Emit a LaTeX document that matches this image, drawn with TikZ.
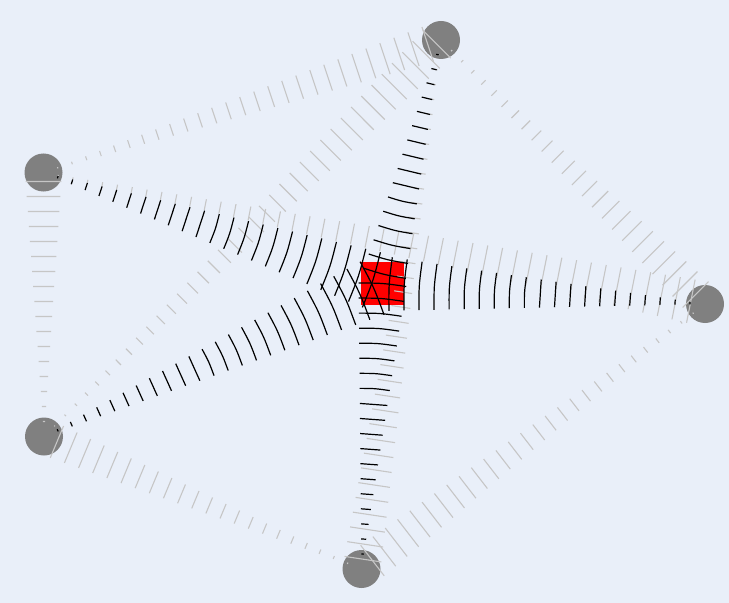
\documentclass[tikz,border=0pt]{standalone}
\usetikzlibrary{calc}
\definecolor{bgblue}{RGB}{233,239,249}
\definecolor{nodegray}{RGB}{128,128,128}
\definecolor{tickgray}{RGB}{198,198,198}
\tikzset{
  outer/.style={circle, fill=nodegray, minimum size=38bp, inner sep=0pt},
  hub/.style={rectangle, fill=red, minimum size=43bp, inner sep=0pt},
  ringtick/.style={draw=tickgray, line width=1.1bp},
  hubtick/.style={draw=black, line width=1.2bp},
}
% #1 source, #2 target, #3 width at target, #4 style, #5 bend factor
\newcommand\taperedge[5]{%
  \path let \p1=($(#2.center)-(#1.center)$) in \pgfextra{\pgfmathsetmacro\tmplen{veclen(\x1,\y1)}\xdef\taperlen{\tmplen}};
  \pgfmathtruncatemacro\tapern{floor(\taperlen/15.056)}%
  \foreach \k in {1,...,\tapern}{%
    \pgfmathsetmacro\f{\k*15.056/\taperlen}%
    \pgfmathsetmacro\h{0.5*#3*\f}%
    \pgfmathsetmacro\c{#5*\h}%
    \coordinate (tc) at ($(#1.center)!\f!(#2.center)$);
    \draw[#4] ($(tc)!\h bp!90:(#2.center)$) .. controls ($(tc)!\c bp!(#2.center)$) .. ($(tc)!\h bp!-90:(#2.center)$);
  }%
}
\begin{document}
\begin{tikzpicture}[x=1bp,y=-1bp]
\fill[bgblue] (0,0) rectangle (729,603);
\useasboundingbox (0,0) rectangle (729,603);
\node[outer] (T) at (441,40) {};
\node[outer] (L) at (43.5,172.5) {};
\node[outer] (BL) at (44,436.5) {};
\node[outer] (B) at (361.5,569) {};
\node[outer] (R) at (705,304) {};
\node[hub] (C) at (382.5,283.5) {};
% light edges
\taperedge{L}{T}{38}{ringtick}{0.03}
\taperedge{T}{R}{38}{ringtick}{0.03}
\taperedge{R}{B}{40}{ringtick}{0.03}
\taperedge{B}{BL}{36}{ringtick}{0.03}
\taperedge{BL}{L}{37}{ringtick}{0.03}
\taperedge{BL}{T}{40}{ringtick}{0.03}
\taperedge{L}{R}{45}{ringtick}{0.03}
\taperedge{T}{B}{38}{ringtick}{0.03}
% dark edges into the hub
\taperedge{L}{C}{60}{hubtick}{0.07}
\taperedge{BL}{C}{60}{hubtick}{0.07}
\taperedge{T}{C}{45}{hubtick}{0.07}
\taperedge{R}{C}{55}{hubtick}{0.07}
\taperedge{B}{C}{48}{hubtick}{0.07}
\end{tikzpicture}
\end{document}
